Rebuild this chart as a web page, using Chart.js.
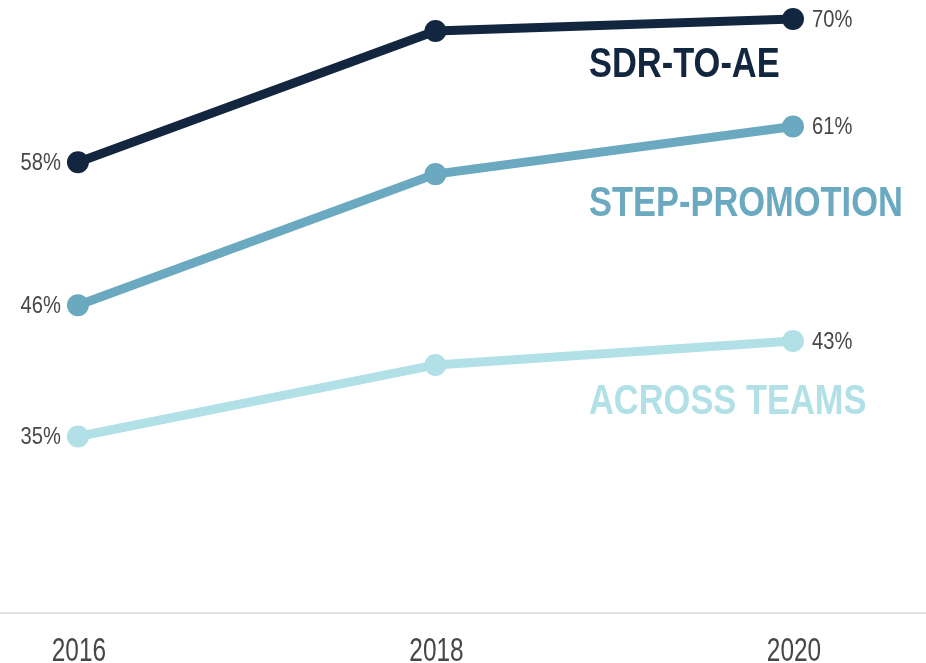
<!DOCTYPE html>
<html>
<head>
<meta charset="utf-8">
<script src="https://cdn.jsdelivr.net/npm/chart.js@4.4.1/dist/chart.umd.min.js"></script>
<style>
    html, body { margin: 0; padding: 0; background: #fff; }
    #wrap { width: 926px; height: 663px; position: relative; }
</style>
</head>
<body>
<div id="wrap"><canvas id="lineChart"></canvas></div>
<script>
const years = [2016, 2018, 2020];
const seriesNames = ['SDR-TO-AE', 'STEP-PROMOTION', 'ACROSS TEAMS'];
const sdrToAe = [58, 69, 70];
const stepPromotion = [46, 57, 61];
const acrossTeams = [35, 41, 43];

const colors = ['#13263f', '#6aa9bf', '#b1e0e6'];
const labelDrop = [58, 90, 73]; // px below the last point, baseline of series name

const textPlugin = {
    id: 'textPlugin',
    afterDatasetsDraw(chart) {
        const ctx = chart.ctx;
        const xs = chart.scales.x;

        function narrow(text, x, y, font, color, align, baseline, sx) {
            ctx.save();
            ctx.font = font;
            ctx.fillStyle = color;
            ctx.textBaseline = baseline;
            ctx.translate(x, y);
            ctx.scale(sx, 1);
            const w = ctx.measureText(text).width;
            let dx = 0;
            if (align === 'right') dx = -w;
            if (align === 'center') dx = -w / 2;
            ctx.fillText(text, dx, 0);
            ctx.restore();
        }

        // year ticks
        years.forEach(function(y) {
            narrow(String(y), xs.getPixelForValue(y) + 1, 661, '33px "Liberation Sans"', '#474747', 'center', 'alphabetic', 0.74);
        });

        chart.data.datasets.forEach(function(ds, i) {
            const meta = chart.getDatasetMeta(i);
            const first = meta.data[0];
            const last = meta.data[meta.data.length - 1];
            const k = ds.seriesIndex;
            narrow(ds.data[0].y + '%', first.x - 17, first.y + 1, '24px "Liberation Sans"', '#474747', 'right', 'middle', 0.84);
            narrow(ds.data[ds.data.length - 1].y + '%', last.x + 19, last.y + 1, '24px "Liberation Sans"', '#474747', 'left', 'middle', 0.84);
            narrow(seriesNames[k], last.x - 204, last.y + labelDrop[k], 'bold 42px "Liberation Sans"', colors[k], 'left', 'alphabetic', 0.82);
        });
    }
};

function makeSet(values, i) {
    return {
        label: seriesNames[i],
        seriesIndex: i,
        data: values.map(function(v, k) { return { x: years[k], y: v }; }),
        borderColor: colors[i],
        backgroundColor: colors[i],
        pointBackgroundColor: colors[i],
        pointBorderWidth: 0,
        borderWidth: 9,
        pointRadius: 11,
        pointHoverRadius: 11,
        tension: 0,
        clip: false
    };
}

new Chart(document.getElementById('lineChart').getContext('2d'), {
    type: 'line',
    data: {
        datasets: [
            makeSet(acrossTeams, 2),
            makeSet(stepPromotion, 1),
            makeSet(sdrToAe, 0)
        ]
    },
    options: {
        responsive: true,
        maintainAspectRatio: false,
        animation: false,
        layout: { padding: 0, autoPadding: false },
        plugins: {
            legend: { display: false },
            tooltip: { enabled: false }
        },
        scales: {
            x: {
                type: 'linear',
                min: 2015.564,
                max: 2020.744,
                grid: { display: false },
                border: { display: true, color: '#e3e3e3', width: 2 },
                ticks: { display: false },
                afterFit: function(scale) { scale.height = 50; }
            },
            y: {
                display: false,
                min: 20.2,
                max: 71.6
            }
        }
    },
    plugins: [textPlugin]
});
</script>
</body>
</html>
